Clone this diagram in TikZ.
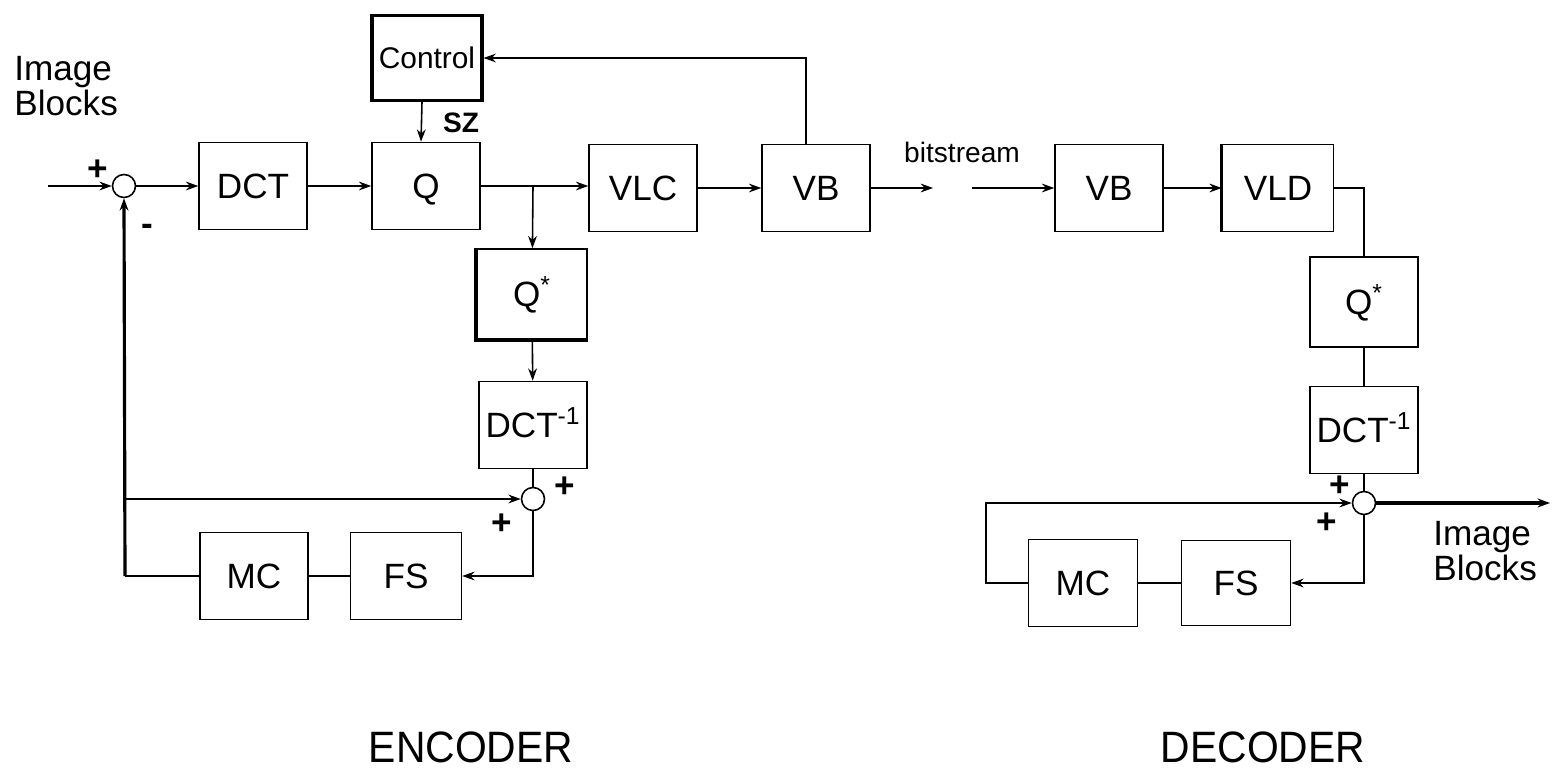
\documentclass[tikz,border=0pt]{standalone}
\usepackage{fontspec}
\setmainfont{Liberation Sans}
\usetikzlibrary{arrows.meta,positioning}

\begin{document}
\begin{tikzpicture}[x=0.02cm, y=-0.02cm,
  blk/.style={draw, line width=0.9pt, minimum width=2.16cm, minimum height=1.74cm, inner sep=0pt, text height=14.3pt, text depth=0pt, font=\fontsize{20}{22}\selectfont},
  sum/.style={draw, circle, line width=0.9pt, minimum size=0.46cm, inner sep=0pt},
  arr/.style={-{Stealth[length=7pt,width=5pt]}, line width=0.9pt},
  wire/.style={line width=0.9pt},
  sgn/.style={inner sep=0pt, font=\fontsize{20}{22}\selectfont\bfseries},
  lbl/.style={inner sep=0pt, align=left, font=\fontsize{20}{20}\selectfont},
]
\useasboundingbox (0,0) rectangle (1552,773);

% encoder
\node[sum] (sum1) at (124,186) {};
\node[blk] (dct) at (253,186) {DCT};
\node[blk] (q) at (426,186) {Q};
\node[blk, line width=1.8pt, minimum width=2.2cm, minimum height=1.7cm, text height=12pt, font=\fontsize{17}{19}\selectfont] (ctrl) at (427,58) {Control};
\node[blk] (vlc) at (643,188) {VLC};
\node[blk] (vbe) at (816,188) {VB};
\node[blk, minimum width=2.2cm, minimum height=1.8cm] (qinv) at (532,294) {Q\textsuperscript{*}};
\node[blk] (idct) at (533,425) {DCT\textsuperscript{-1}};
\node[sum] (sum2) at (533,499) {};
\node[blk] (mc) at (254,576) {MC};
\node[blk, minimum width=2.22cm] (fs) at (406,576) {FS};

\coordinate (ein) at (48,186);
\coordinate (eout) at (933,188);
\coordinate (split) at (533,186);
\coordinate (fbk) at (125,576);
\coordinate (tap) at (125,499);

\draw[line width=2pt] (qinv.north west) |- (qinv.south east);
\draw[arr] (ein) -- (sum1);
\draw[arr] (sum1) -- (dct);
\draw[arr] (dct) -- (q);
\draw[arr] (q.east) -- (vlc.west |- q.east);
\draw[arr] (split) -- (qinv);
\draw[arr] (vlc) -- (vbe);
\draw[arr] (vbe) -- (eout);
\draw[arr] ([xshift=-0.2cm]vbe.north) |- (ctrl.east);
\draw[arr] ([xshift=-0.1cm]ctrl.south) -- ([xshift=-0.1cm]q.north);
\draw[arr] (qinv) -- (idct);
\draw[wire] (idct) -- (sum2);
\draw[wire] (mc.west) -- (fbk);
\draw[arr, line width=1.8pt] (fbk) -- (sum1.south);
\draw[arr] (tap) -- (sum2.west);
\draw[arr] (sum2.south) |- (fs.east);
\draw[wire] (fs) -- (mc);

\node[sgn] (p1) at (98,170) {+};
\node[sgn] (m1) at (147,230) {-};
\node[sgn] (p2) at (565,487) {+};
\node[sgn] (p3) at (502,524) {+};
\node[inner sep=0pt, font=\fontsize{16}{18}\selectfont\bfseries] (sz) at (461,123) {SZ};
\node[lbl, anchor=north west] (imgin) at (14,56) {Image\\Blocks};
\node[inner sep=0pt, font=\fontsize{16}{18}\selectfont] (bits) at (962,152) {bitstream};

% decoder
\node[blk] (vbd) at (1109,188) {VB};
\node[blk, minimum width=2.22cm] (vld) at (1278,188) {VLD};
\node[blk, minimum height=1.8cm] (qinvd) at (1364,302) {Q\textsuperscript{*}};
\node[blk] (idctd) at (1364,430) {DCT\textsuperscript{-1}};
\node[sum] (sum3) at (1364,503) {};
\node[blk, minimum width=2.18cm] (mcd) at (1083,583) {MC};
\node[blk, minimum width=2.18cm, minimum height=1.7cm] (fsd) at (1236,583) {FS};

\coordinate (din) at (972,188);
\coordinate (dout) at (1550,503);

\draw[line width=2pt] (vld.north west) -- (vld.south west);
\draw[arr] (din) -- (vbd);
\draw[arr] (vbd) -- (vld);
\draw[wire] (vld.east) -| (qinvd.north);
\draw[wire] (qinvd) -- (idctd);
\draw[wire] (idctd) -- (sum3);
\draw[arr, line width=1.8pt] (sum3.east) -- (dout);
\draw[arr] (sum3.south) |- (fsd.east);
\draw[wire] (fsd) -- (mcd);
\draw[arr] (mcd.west) -- ++(-42,0) |- (sum3.west);

\node[sgn] (p4) at (1340,486) {+};
\node[sgn] (p5) at (1327,523) {+};
\node[lbl, anchor=north west] (imgout) at (1433,521) {Image\\Blocks};

% captions
\node[inner sep=0pt, anchor=base] (enc) at (471,762) {\fontsize{25}{27}\selectfont\scalebox{0.93}[1]{ENCODER}};
\node[inner sep=0pt, anchor=base] (dec) at (1263,762) {\fontsize{25}{27}\selectfont\scalebox{0.93}[1]{DECODER}};
\end{tikzpicture}
\end{document}
